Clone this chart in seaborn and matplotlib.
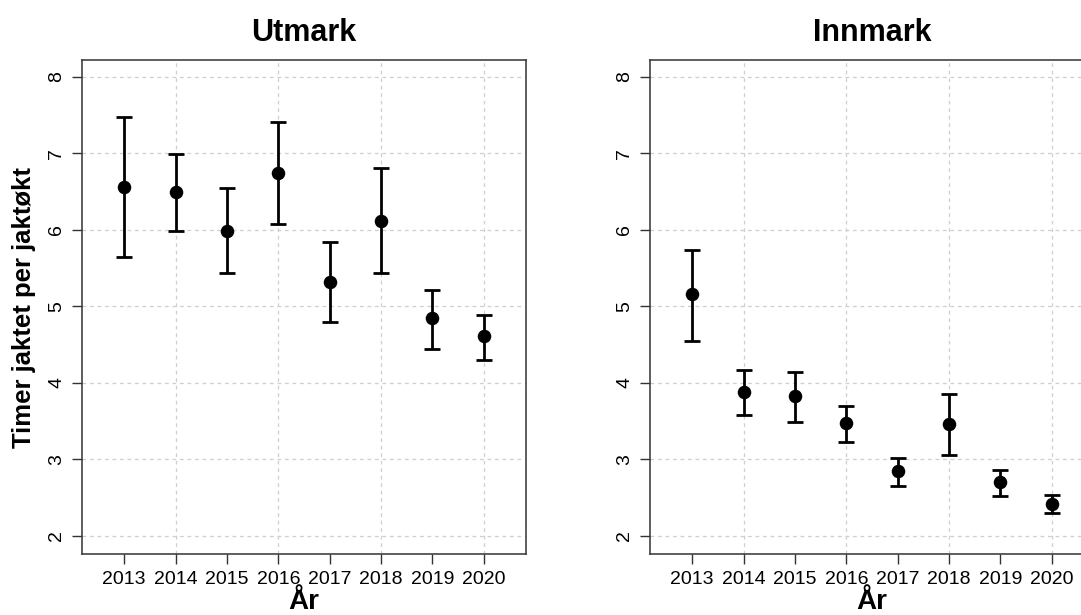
import matplotlib
matplotlib.use("Agg")
import matplotlib.pyplot as plt
import seaborn as sns
import numpy as np
import pandas as pd

years = [2013, 2014, 2015, 2016, 2017, 2018, 2019, 2020]

utmark_mean = [6.56, 6.49, 5.99, 6.74, 5.32, 6.12, 4.84, 4.61]
utmark_low = [5.64, 5.99, 5.44, 6.07, 4.79, 5.43, 4.44, 4.30]
utmark_high = [7.48, 6.99, 6.55, 7.41, 5.84, 6.81, 5.21, 4.89]

innmark_mean = [5.16, 3.88, 3.83, 3.47, 2.85, 3.46, 2.70, 2.42]
innmark_low = [4.55, 3.58, 3.48, 3.23, 2.65, 3.05, 2.52, 2.30]
innmark_high = [5.74, 4.17, 4.14, 3.70, 3.02, 3.85, 2.86, 2.53]

titles = ["Utmark", "Innmark"]
ylabel = "Timer jaktet per jaktøkt"
xlabel = "År"

sns.set_style("white")
plt.rcParams["font.family"] = ["Liberation Sans", "DejaVu Sans"]
plt.rcParams["text.color"] = "black"
plt.rcParams["axes.labelcolor"] = "black"
plt.rcParams["xtick.color"] = "black"
plt.rcParams["ytick.color"] = "black"

fig = plt.figure(figsize=(10.81, 6.15), dpi=100)
W, H = 1081, 615
pos = [
    [82 / W, (H - 554) / H, 444 / W, 494 / H],
    [650 / W, (H - 554) / H, 444 / W, 494 / H],
]

panels = [
    (utmark_mean, utmark_low, utmark_high),
    (innmark_mean, innmark_low, innmark_high),
]

for i, (mean, low, high) in enumerate(panels):
    ax = fig.add_axes(pos[i])
    df = pd.DataFrame({"year": years, "value": mean, "low": low, "high": high})
    for gx in [2014, 2016, 2018, 2020]:
        ax.axvline(gx, color="#cfcfcf", lw=0.9, ls=(0, (3, 3)), zorder=0)
    for gy in range(2, 9):
        ax.axhline(gy, color="#cfcfcf", lw=0.9, ls=(0, (3, 3)), zorder=0)
    yerr = np.vstack([df["value"] - df["low"], df["high"] - df["value"]])
    ax.errorbar(df["year"], df["value"], yerr=yerr, fmt="none", ecolor="black",
                elinewidth=2.0, capsize=5.8, capthick=2.0, zorder=2)
    sns.scatterplot(data=df, x="year", y="value", ax=ax, color="black", s=95,
                    edgecolor="black", linewidth=0, zorder=3, legend=False)
    ax.set_xlim(2012.18, 2020.82)
    ax.set_ylim(1.76, 8.22)
    ax.set_xticks(years)
    ax.set_xticklabels([str(y) for y in years], fontsize=14)
    ax.set_yticks(range(2, 9))
    ax.set_yticklabels([str(v) for v in range(2, 9)], fontsize=14, rotation=90, va="center")
    ax.tick_params(axis="both", direction="out", length=7, width=1, color="#333333",
                   bottom=True, left=True)
    ax.tick_params(axis="x", pad=5)
    ax.tick_params(axis="y", pad=5)
    for s in ax.spines.values():
        s.set_color("#333333")
        s.set_linewidth(1.1)
        s.set_visible(True)
    ax.set_title(titles[i], fontsize=22, fontweight="bold", pad=14)
    ax.set_xlabel(xlabel, fontsize=20, fontweight="bold", labelpad=1)
    if i == 0:
        ax.set_ylabel(ylabel, fontsize=18.5, fontweight="bold", labelpad=9)
    else:
        ax.set_ylabel("")

fig.savefig("out.png", dpi=100)
